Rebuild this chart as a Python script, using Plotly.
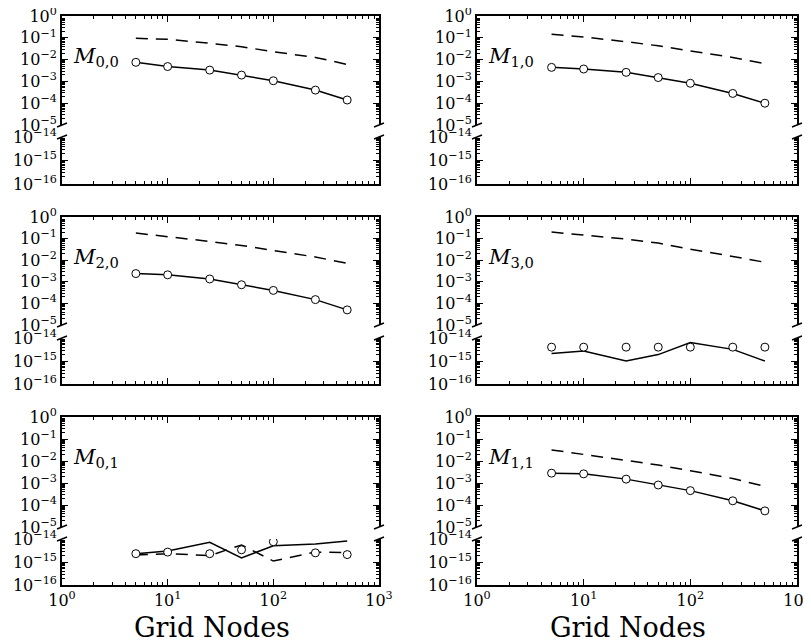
import plotly.graph_objects as go

# ---------------- data ----------------
grid_nodes = [5, 10, 25, 50, 100, 250, 500]

m00_solid = [7.5e-3, 4.8e-3, 3.3e-3, 1.95e-3, 1.07e-3, 4.0e-4, 1.4e-4]
m00_dashed = [0.095, 0.085, 0.056, 0.039, 0.023, 0.0126, 0.006]
m00_circles = [7.5e-3, 4.8e-3, 3.3e-3, 1.95e-3, 1.07e-3, 4.0e-4, 1.4e-4]

m10_solid = [4.4e-3, 3.7e-3, 2.6e-3, 1.5e-3, 8.2e-4, 2.8e-4, 1.0e-4]
m10_dashed = [0.145, 0.11, 0.066, 0.043, 0.025, 0.0126, 0.0065]
m10_circles = [4.4e-3, 3.7e-3, 2.6e-3, 1.5e-3, 8.2e-4, 2.8e-4, 1.0e-4]

m20_solid = [2.4e-3, 2.1e-3, 1.35e-3, 7.3e-4, 4.0e-4, 1.5e-4, 5.0e-5]
m20_dashed = [0.18, 0.125, 0.074, 0.048, 0.028, 0.014, 0.0072]
m20_circles = [2.4e-3, 2.1e-3, 1.35e-3, 7.3e-4, 4.0e-4, 1.5e-4, 5.0e-5]

m30_solid = [2.1e-15, 2.7e-15, 1.0e-15, 1.9e-15, 6.4e-15, 3.2e-15, 1.0e-15]
m30_dashed = [0.2, 0.15, 0.095, 0.062, 0.032, 0.015, 0.008]
m30_circles = [4.0e-15, 4.0e-15, 4.0e-15, 4.0e-15, 4.0e-15, 4.0e-15, 4.0e-15]

m01_solid = [2.3e-15, 3.0e-15, 7.2e-15, 1.5e-15, 5.1e-15, 6.0e-15, 8.2e-15]
m01_dashed = [2.0e-15, 2.3e-15, 1.9e-15, 5.5e-15, 1.1e-15, 2.7e-15, 2.6e-15]
m01_circles = [2.3e-15, 2.7e-15, 2.3e-15, 3.4e-15, 7.6e-15, 2.5e-15, 2.1e-15]

m11_solid = [2.8e-3, 2.6e-3, 1.5e-3, 8.1e-4, 4.5e-4, 1.55e-4, 5.4e-5]
m11_dashed = [0.032, 0.02, 0.011, 0.0066, 0.0036, 0.0016, 0.0007]
m11_circles = [2.8e-3, 2.6e-3, 1.5e-3, 8.1e-4, 4.5e-4, 1.55e-4, 5.4e-5]

panel_labels = ["0,0", "1,0", "2,0", "3,0", "0,1", "1,1"]

x_tickvals = [1, 10, 100, 1000]
x_ticktext = ["10<sup>0</sup>", "10<sup>1</sup>", "10<sup>2</sup>", "10<sup>3</sup>"]
yu_tickvals = [1, 1e-1, 1e-2, 1e-3, 1e-4, 1e-5]
yu_ticktext = ["10<sup>0</sup>", "10<sup>−1</sup>", "10<sup>−2</sup>",
               "10<sup>−3</sup>", "10<sup>−4</sup>", "10<sup>−5</sup>"]
yl_tickvals = [1e-14, 1e-15, 1e-16]
yl_ticktext = ["10<sup>−14</sup>", "10<sup>−15</sup>", "10<sup>−16</sup>"]
x_title = "Grid Nodes"

panels = [
    (m00_solid, m00_dashed, m00_circles),
    (m10_solid, m10_dashed, m10_circles),
    (m20_solid, m20_dashed, m20_circles),
    (m30_solid, m30_dashed, m30_circles),
    (m01_solid, m01_dashed, m01_circles),
    (m11_solid, m11_dashed, m11_circles),
]

# ---------------- layout helpers ----------------
OFF = 8  # the page body margin shifts the figure by this much
W, H = 811 - OFF, 643 - OFF
FONT = "DejaVu Serif"


def fx(px):
    return (px - OFF) / W


def fy(py):
    return 1 - (py - OFF) / H


col_px = [(62, 379), (477, 797)]
row_px = [((16, 125), (137, 184)), ((217, 325), (338, 384)), ((417, 527), (539, 585))]


def minor_vals(k0, k1):
    return [m * 10.0 ** k for k in range(k0, k1) for m in range(2, 10)]


x_minor = minor_vals(0, 3)
yu_minor = minor_vals(-5, 0)
yl_minor = minor_vals(-16, -14)

fig = go.Figure()
layout = dict(
    width=W, height=H, margin=dict(l=0, r=0, t=0, b=0),
    paper_bgcolor="white", plot_bgcolor="white", showlegend=False,
    template="none", shapes=[], annotations=[],
)

tickfont = dict(family=FONT, size=16, color="black")


def base_axis():
    return dict(type="log", showline=True, linecolor="black", linewidth=1.8,
                ticks="inside", tickcolor="black", tickwidth=1, ticklen=6,
                showgrid=False, zeroline=False, automargin=False,
                ticklabeloverflow="allow",
                tickfont=tickfont, tickmode="array")


def minor_ticks(vals):
    return dict(ticks="inside", ticklen=3, tickcolor="black",
                tickwidth=1, tickmode="array", tickvals=vals)


def aname(prefix, n):
    return prefix if n == 1 else f"{prefix}{n}"


for i, (solid, dashed, circles) in enumerate(panels):
    r, c = divmod(i, 2)
    (xl0, xl1) = col_px[c]
    (up0, up1), (lo0, lo1) = row_px[r]
    nu, nl = 2 * i + 1, 2 * i + 2

    # upper x (top spine only)
    ax = base_axis()
    ax.update(domain=[fx(xl0), fx(xl1)], anchor=f"y{nu}", side="top",
              range=[0, 3], tickvals=x_tickvals, showticklabels=False,
              minor=minor_ticks(x_minor))
    layout[aname("xaxis", nu)] = ax
    # lower x (bottom spine)
    ax = base_axis()
    ax.update(domain=[fx(xl0), fx(xl1)], anchor=f"y{nl}", side="bottom",
              range=[0, 3], tickvals=x_tickvals, ticktext=x_ticktext,
              showticklabels=(r == 2),
              minor=minor_ticks(x_minor))
    layout[aname("xaxis", nl)] = ax
    # upper y
    ay = base_axis()
    ay.update(domain=[fy(up1), fy(up0)], anchor=f"x{nu}", range=[-5, 0],
              mirror="ticks", tickvals=yu_tickvals, ticktext=yu_ticktext,
              minor=minor_ticks(yu_minor))
    layout[aname("yaxis", nu)] = ay
    # lower y
    ay = base_axis()
    ay.update(domain=[fy(lo1), fy(lo0)], anchor=f"x{nl}", range=[-16, -14],
              mirror="ticks", tickvals=yl_tickvals, ticktext=yl_ticktext,
              minor=minor_ticks(yl_minor))
    layout[aname("yaxis", nl)] = ay

    for (xa, ya) in [(f"x{nu}", f"y{nu}"), (f"x{nl}", f"y{nl}")]:
        fig.add_trace(go.Scatter(x=grid_nodes, y=dashed, mode="lines",
                                 line=dict(color="black", width=1.5, dash="12px,8px"),
                                 xaxis=xa, yaxis=ya, hoverinfo="skip"))
        fig.add_trace(go.Scatter(x=grid_nodes, y=solid, mode="lines",
                                 line=dict(color="black", width=1.5),
                                 xaxis=xa, yaxis=ya, hoverinfo="skip"))
        fig.add_trace(go.Scatter(x=grid_nodes, y=circles, mode="markers",
                                 marker=dict(symbol="circle", size=8, color="white",
                                             line=dict(color="black", width=1)),
                                 xaxis=xa, yaxis=ya, hoverinfo="skip"))

    # break marks
    for sx in (xl0, xl1):
        for sy in (up1, lo0):
            layout["shapes"].append(dict(
                type="line", xref="paper", yref="paper",
                x0=fx(sx - 5), y0=fy(sy + 2), x1=fx(sx + 5), y1=fy(sy - 2),
                line=dict(color="black", width=1.5)))

    # panel label
    layout["annotations"].append(dict(
        xref="paper", yref="paper", x=fx(xl0 + 9), y=fy(up0 + 41),
        xanchor="left", yanchor="middle", showarrow=False,
        text=f"<i>M</i><sub>{panel_labels[i]}</sub>",
        font=dict(family=FONT, size=21, color="black")))

for cx in (211.5, 628):
    layout["annotations"].append(dict(
        xref="paper", yref="paper", x=fx(cx), y=fy(627),
        xanchor="center", yanchor="middle", showarrow=False,
        text=x_title, font=dict(family=FONT, size=27, color="black")))

fig.update_layout(**layout)
fig.write_html("out.html")
